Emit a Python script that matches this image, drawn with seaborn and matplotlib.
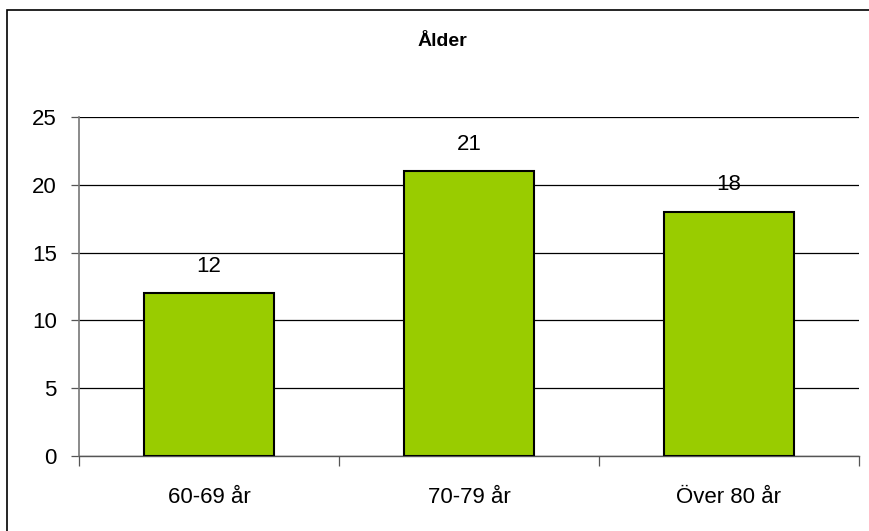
import matplotlib
matplotlib.use("Agg")
import matplotlib.pyplot as plt
import seaborn as sns
import pandas as pd
from matplotlib.patches import Rectangle

categories = ["60-69 år", "70-79 år", "Över 80 år"]
values = [12, 21, 18]
yticks = [0, 5, 10, 15, 20, 25]
title = "Ålder"

sns.set_theme(style="white")
plt.rcParams['font.family'] = ['Liberation Sans', 'DejaVu Sans']
plt.rcParams['text.color'] = 'black'
plt.rcParams['xtick.color'] = 'black'
plt.rcParams['ytick.color'] = 'black'

W, H = 869, 531
fig = plt.figure(figsize=(W / 100, H / 100), dpi=100)
ax = fig.add_axes([79 / W, 1 - 456 / H, (859 - 79) / W, (456 - 117) / H])

df = pd.DataFrame({"cat": categories, "val": values})
sns.barplot(data=df, x="cat", y="val", color="#99CC00", saturation=1,
            width=0.5, edgecolor="black", linewidth=1.5, ax=ax, zorder=3)

ax.set_xlim(-0.5, 2.5)
ax.set_ylim(0, 25)
ax.set_yticks(yticks)
ax.set_yticklabels([str(t) for t in yticks], fontsize=16)
ax.yaxis.grid(True, color="black", linewidth=0.9, zorder=0)
ax.set_axisbelow(True)
ax.set_xlabel("")
ax.set_ylabel("")
ax.tick_params(axis="y", length=6, width=0.9, color="#555555", labelcolor="black",
               pad=10, direction="out", left=True)
ax.set_xticks([0, 1, 2])
ax.set_xticklabels(categories)
ax.tick_params(axis="x", length=0, pad=22, labelsize=16, labelcolor="black")
# boundary ticks on x axis
ax.set_xticks([-0.5, 0.5, 1.5, 2.5], minor=True)
ax.tick_params(axis="x", which="minor", length=7, width=0.9, color="#555555", bottom=True)

for s in ["top", "right"]:
    ax.spines[s].set_visible(False)
ax.spines["left"].set_color("#777777")
ax.spines["left"].set_linewidth(1.2)
ax.spines["bottom"].set_color("#555555")
ax.spines["bottom"].set_linewidth(1.0)

for i, v in enumerate(values):
    ax.annotate(str(v), (i, v), xytext=(0, 12), textcoords="offset points",
                ha="center", va="bottom", fontsize=16, color="black")

fig.text(442 / W, 1 - 41 / H, title, ha="center", va="center", fontsize=14,
         fontweight="bold", color="black")

fig.patches.append(Rectangle((7 / W, -0.05), 1.2, 1 - 10 / H + 0.05, transform=fig.transFigure,
                             fill=False, edgecolor="black", linewidth=1.2))

fig.savefig("out.png", dpi=100)
